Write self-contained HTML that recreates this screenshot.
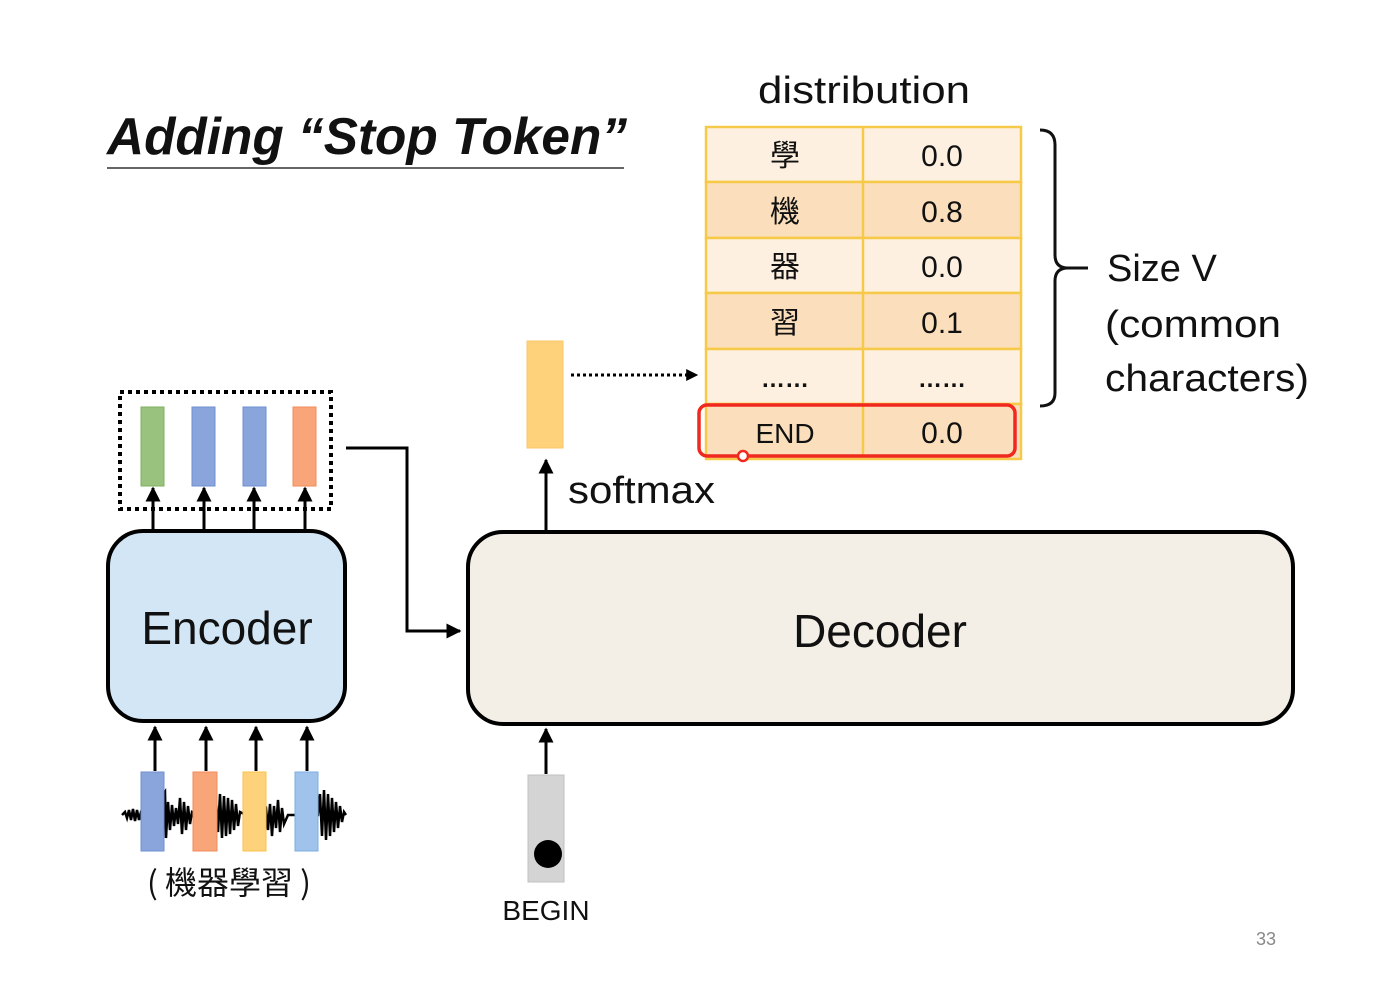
<!DOCTYPE html>
<html><head><meta charset="utf-8"><style>
html,body{margin:0;padding:0;background:#fff;}
svg{display:block;}
text{font-family:"Liberation Sans","Noto Sans CJK TC",sans-serif;fill:#111;}
.cjk{font-family:"Noto Sans CJK TC","Liberation Sans",sans-serif;}
</style></head><body>
<svg width="1389" height="986" viewBox="0 0 1389 986" xmlns="http://www.w3.org/2000/svg">
<defs>
<marker id="ah" viewBox="0 0 10 10" refX="9" refY="5" markerWidth="5" markerHeight="5" orient="auto-start-reverse"><path d="M0,0 L10,5 L0,10 z" fill="#000"/></marker>
<marker id="ah2" viewBox="0 0 10 10" refX="9" refY="5" markerWidth="4" markerHeight="4" orient="auto"><path d="M0,0 L10,5 L0,10 z" fill="#000"/></marker>
</defs>
<text x="107" y="154" font-size="52" font-weight="bold" font-style="italic" textLength="520" lengthAdjust="spacingAndGlyphs">Adding “Stop Token”</text>
<line x1="107" y1="168" x2="624" y2="168" stroke="#666" stroke-width="2"/>

<text x="758" y="103" font-size="38" textLength="212" lengthAdjust="spacingAndGlyphs">distribution</text>
<g stroke="#f7c948" stroke-width="2.5">
<rect x="706" y="127" width="315" height="55" fill="#fdf0e0"/>
<rect x="706" y="182" width="315" height="56" fill="#fbdfbd"/>
<rect x="706" y="238" width="315" height="55" fill="#fdf0e0"/>
<rect x="706" y="293" width="315" height="56" fill="#fbdfbd"/>
<rect x="706" y="349" width="315" height="55" fill="#fdf0e0"/>
<rect x="706" y="404" width="315" height="55" fill="#fbdfbd"/>
<line x1="863" y1="127" x2="863" y2="459"/>
</g>
<g font-size="30" text-anchor="middle">
<text class="cjk" x="785" y="166">學</text><text x="942" y="166">0.0</text>
<text class="cjk" x="785" y="222">機</text><text x="942" y="222">0.8</text>
<text class="cjk" x="785" y="277">器</text><text x="942" y="277">0.0</text>
<text class="cjk" x="785" y="333">習</text><text x="942" y="333">0.1</text>
<text x="785" y="387" font-weight="bold" font-size="24">……</text><text x="942" y="387" font-weight="bold" font-size="24">……</text>
<text x="785" y="443" font-size="28">END</text><text x="942" y="443">0.0</text>
</g>
<rect x="699" y="405" width="316" height="51" rx="8" fill="none" stroke="#f0281e" stroke-width="3.5"/>
<circle cx="743" cy="456" r="5" fill="#fff" stroke="#f0281e" stroke-width="2.5"/>

<path d="M1040,130 Q1055,130 1055,145 L1055,255 Q1055,268 1068,268 L1088,268 M1068,268 Q1055,268 1055,281 L1055,393 Q1055,406 1040,406" fill="none" stroke="#111" stroke-width="3"/>
<text x="1107" y="281" font-size="38">Size V</text>
<text x="1105" y="337" font-size="38" textLength="176" lengthAdjust="spacingAndGlyphs">(common</text>
<text x="1105" y="391" font-size="38" textLength="204" lengthAdjust="spacingAndGlyphs">characters)</text>

<rect x="527" y="341" width="36" height="107" fill="#fdd27a" stroke="#f9c56a" stroke-width="1"/>
<line x1="571" y1="375" x2="697" y2="375" stroke="#000" stroke-width="3" stroke-dasharray="3,3" marker-end="url(#ah2)"/>
<line x1="546" y1="531" x2="546" y2="460" stroke="#000" stroke-width="3" marker-end="url(#ah)"/>
<text x="568" y="503" font-size="38" textLength="147" lengthAdjust="spacingAndGlyphs">softmax</text>

<rect x="468" y="532" width="825" height="192" rx="35" fill="#f4efe6" stroke="#000" stroke-width="4"/>
<text x="880" y="647" font-size="46" text-anchor="middle">Decoder</text>

<rect x="108" y="531" width="237" height="190" rx="35" fill="#d3e6f6" stroke="#000" stroke-width="4"/>
<text x="227" y="644" font-size="46" text-anchor="middle">Encoder</text>

<rect x="120" y="392" width="211" height="117" fill="none" stroke="#000" stroke-width="4" stroke-dasharray="4,4"/>
<rect x="141" y="407" width="23" height="79" fill="#99c27e" stroke="#7fb060"/>
<rect x="192" y="407" width="23" height="79" fill="#8aa5dc" stroke="#6d8fd0"/>
<rect x="243" y="407" width="23" height="79" fill="#8aa5dc" stroke="#6d8fd0"/>
<rect x="293" y="407" width="23" height="79" fill="#f8a57a" stroke="#f28a5a"/>
<g stroke="#000" stroke-width="3" marker-end="url(#ah)">
<line x1="153" y1="531" x2="153" y2="488"/>
<line x1="204" y1="531" x2="204" y2="488"/>
<line x1="254" y1="531" x2="254" y2="488"/>
<line x1="305" y1="531" x2="305" y2="488"/>
</g>

<polyline points="346,448 407,448 407,631 460,631" fill="none" stroke="#000" stroke-width="3" marker-end="url(#ah)"/>

<polyline fill="none" stroke="#000" stroke-width="2.5" points="122,815 125,812 127,818 129,810 131,820 133,809 135,821 137,810 139,820 141,812 150,815 165,792 166,838 168,802 170,830 172,805 174,826 176,808 178,824 180,798 182,834 184,802 186,830 188,806 190,824 192,812 198,815 216,800 218,832 220,794 222,838 224,796 226,836 228,798 230,834 232,800 234,830 236,804 238,826 240,812 246,815 266,808 268,830 270,804 272,836 274,806 276,828 278,800 280,832 282,808 284,824 288,815 318,815 320,794 322,836 324,790 326,840 328,794 330,836 332,798 334,832 336,802 338,828 340,806 342,822 344,812 346,815"/>
<rect x="141" y="772" width="23" height="79" fill="#8aa5dc" stroke="#6d8fd0"/>
<rect x="193" y="772" width="24" height="79" fill="#f8a57a" stroke="#f28a5a"/>
<rect x="243" y="772" width="23" height="79" fill="#fdd27a" stroke="#f9c14a"/>
<rect x="295" y="772" width="23" height="79" fill="#9fc3ea" stroke="#7eaee2"/>
<g stroke="#000" stroke-width="3" marker-end="url(#ah)">
<line x1="155" y1="771" x2="155" y2="727"/>
<line x1="206" y1="771" x2="206" y2="727"/>
<line x1="256" y1="771" x2="256" y2="727"/>
<line x1="307" y1="771" x2="307" y2="727"/>
</g>
<text class="cjk" x="229" y="894" font-size="32" text-anchor="middle" fill="#222">( 機器學習 )</text>

<rect x="528" y="775" width="36" height="107" fill="#d4d4d4" stroke="#c0c0c0"/>
<circle cx="548" cy="854" r="14" fill="#000"/>
<line x1="546" y1="774" x2="546" y2="729" stroke="#000" stroke-width="3" marker-end="url(#ah)"/>
<text x="546" y="920" font-size="28" text-anchor="middle">BEGIN</text>

<text x="1266" y="945" font-size="18" text-anchor="middle" style="fill:#888">33</text>
</svg>
</body></html>
